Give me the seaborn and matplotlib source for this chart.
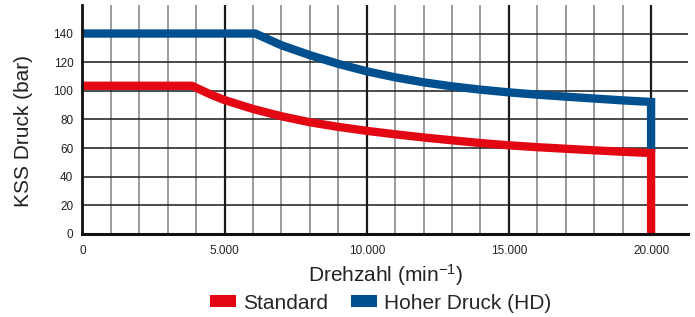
import matplotlib
matplotlib.use("Agg")
import matplotlib.pyplot as plt
import seaborn as sns
import pandas as pd
from matplotlib.patches import Patch
from matplotlib.ticker import FixedLocator, FuncFormatter

# Values
std_rpm = [0, 3850, 4500, 5000, 6000, 7000, 8000, 9000, 10000, 11000, 12000, 13000, 14000,
           15000, 16000, 17000, 18000, 19000, 20000, 20000]
std_bar = [103.5, 103.5, 97.5, 93.5, 87.3, 82.2, 78, 74.8, 72, 69.6, 67.4, 65.4, 63.5,
           61.9, 60.6, 59.5, 58.4, 57.4, 56.5, 0]
hd_rpm = [0, 6080, 7000, 8000, 9000, 10000, 11000, 12000, 13000, 14000, 15000,
          16000, 17000, 18000, 19000, 20000, 20000]
hd_bar = [140, 140, 131.8, 124.9, 118.8, 113.6, 109.4, 105.9, 103.1, 100.8, 98.9,
          97.3, 95.9, 94.6, 93.3, 92.2, 57]

series_names = ["Standard", "Hoher Druck (HD)"]
colors = {"Standard": "#e30613", "Hoher Druck (HD)": "#00508f"}

df = pd.concat([
    pd.DataFrame({"rpm": hd_rpm, "bar": hd_bar, "serie": series_names[1]}),
    pd.DataFrame({"rpm": std_rpm, "bar": std_bar, "serie": series_names[0]}),
])

sns.set_style("white")
plt.rcParams["font.family"] = ["Liberation Sans", "DejaVu Sans"]
plt.rcParams["mathtext.fontset"] = "custom"
plt.rcParams["mathtext.rm"] = "Liberation Sans"
plt.rcParams["mathtext.it"] = "Liberation Sans"
plt.rcParams["mathtext.default"] = "regular"

fig = plt.figure(figsize=(6.95, 3.17), dpi=100)
ax = fig.add_axes([0.1186, 0.2621, 0.8714, 0.7224])

# grid
for x in range(0, 20001, 1000):
    major = x % 5000 == 0
    ax.axvline(x, color="#1a1a1a" if major else "#8a8a8a", lw=1.6 if major else 1.2, zorder=1)
for y in range(20, 141, 20):
    ax.axhline(y, color="#1a1a1a", lw=1.1, zorder=1)

sns.lineplot(data=df, x="rpm", y="bar", hue="serie", estimator=None, sort=False,
             palette=colors, lw=6, legend=False, ax=ax, zorder=3)
for line in ax.lines:
    line.set_solid_joinstyle("miter")
    line.set_solid_capstyle("butt")

ax.set_xlim(0, 21300)
ax.set_ylim(0, 160)
ax.xaxis.set_major_locator(FixedLocator([0, 5000, 10000, 15000, 20000]))
ax.yaxis.set_major_locator(FixedLocator(list(range(0, 141, 20))))
ax.xaxis.set_major_formatter(FuncFormatter(lambda v, p: f"{int(v):,}".replace(",", ".")))
ax.tick_params(axis="both", labelsize=8.5, colors="#222222", length=0)
ax.tick_params(axis="x", pad=8)
ax.tick_params(axis="y", pad=6.5)

for s in ["top", "right"]:
    ax.spines[s].set_visible(False)
for s in ["left", "bottom"]:
    ax.spines[s].set_color("#111111")
    ax.spines[s].set_zorder(4)
ax.spines["left"].set_linewidth(2)
ax.spines["bottom"].set_linewidth(2.2)

ax.set_xlabel("Drehzahl (min$^{-1}$)", fontsize=15, color="#222222", labelpad=4)
ax.set_ylabel("KSS Druck (bar)", fontsize=15, color="#222222")
ax.yaxis.label.set_va("center")
ax.yaxis.set_label_coords(-0.098, 0.448)

handles = [Patch(facecolor=colors[n], edgecolor="none") for n in series_names]
fig.legend(handles, series_names, loc="center", bbox_to_anchor=(0.5475, 0.044), ncol=2,
           frameon=False, fontsize=15, handlelength=1.25, handleheight=0.48,
           handletextpad=0.34, columnspacing=1.1, borderpad=0, borderaxespad=0)

fig.savefig("out.png", dpi=100)
